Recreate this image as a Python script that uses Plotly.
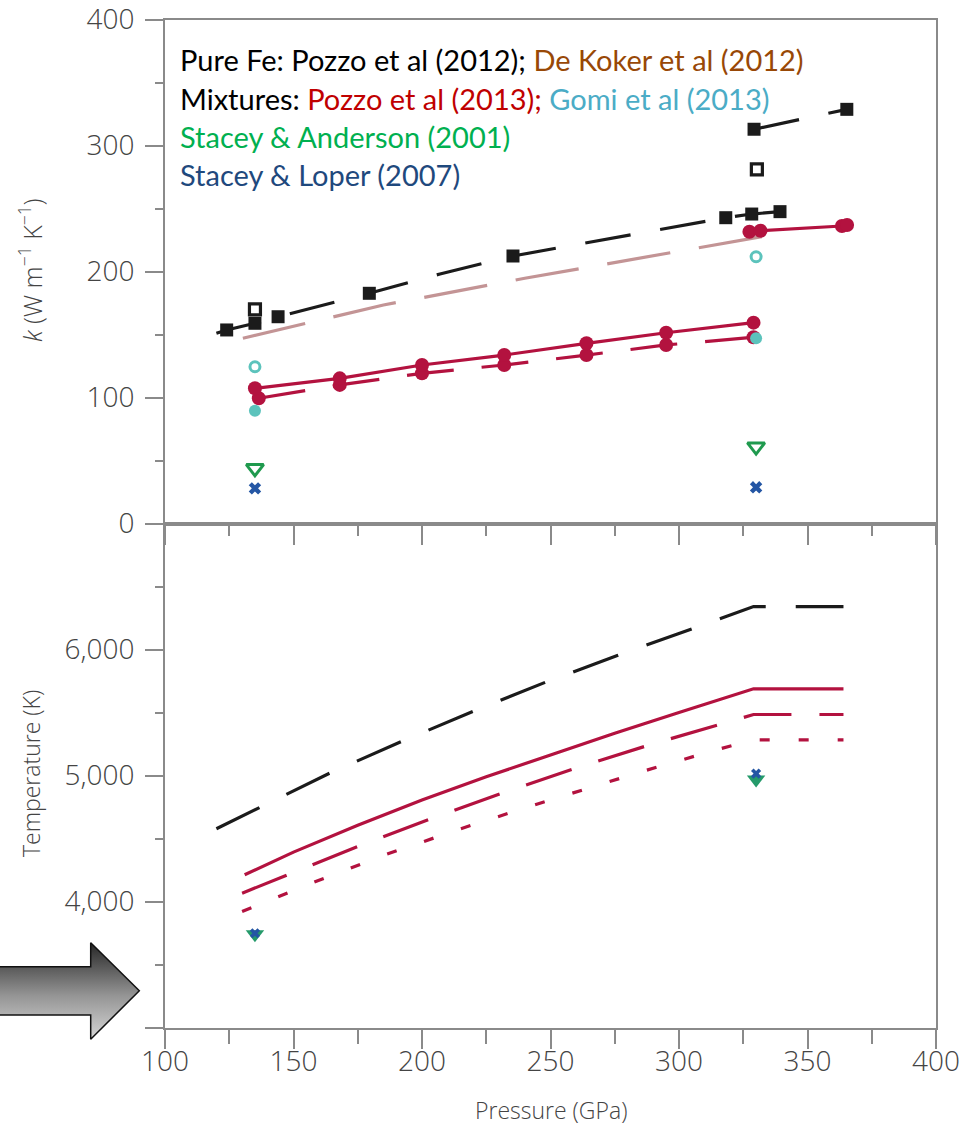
import plotly.graph_objects as go

W, H = 977, 1138

# ---------------- data: top panel (thermal conductivity k) ----------------
fe_line_p = [120, 124, 135, 144, 179.5, 207, 235.4, 270, 295, 318.2, 328.3, 339.3]
fe_line_k = [151, 153.6, 158.9, 164.1, 182.7, 198, 212.3, 225, 234, 242.7, 245.6, 247.5]
fe_sq_p = [124, 135, 144, 179.5, 235.4, 318.2, 328.3, 339.3]
fe_sq_k = [153.6, 158.9, 164.1, 182.7, 212.3, 242.7, 245.6, 247.5]
fe_hi_p = [329.2, 365.3]
fe_hi_k = [312.9, 328.7]
fe_open_p = [135, 330.3]
fe_open_k = [170, 281.1]

dekoker_p = [130.3, 185, 240, 303, 339.6]
dekoker_k = [147, 173.4, 194.6, 217, 230.3]

mix_solid_p = [135, 168, 200, 232, 264, 295, 329]
mix_solid_k = [107.3, 115.2, 125.8, 133.7, 143, 151.4, 159.4]
mix_dash_p = [136.5, 168, 200, 232, 264, 295, 329]
mix_dash_k = [99.4, 110, 119.2, 125.8, 133.7, 141.7, 147.8]
mix_hi_p = [327.4, 331.7, 363.4, 365.4]
mix_hi_k = [231.6, 232.4, 236.1, 236.9]

gomi_fill_p = [135, 330]
gomi_fill_k = [89.5, 147]
gomi_open_p = [135, 330]
gomi_open_k = [124.4, 211.7]

sa_p = [135, 330]
sa_k = [43.8, 61]
sl_p = [135, 330]
sl_k = [27.9, 28.7]

# ---------------- data: bottom panel (temperature) ----------------
fe_T_p = [120, 137, 148, 164, 192, 220, 248, 276, 305, 329, 364]
fe_T = [4577, 4748, 4855, 5018, 5270, 5510, 5740, 5952, 6164, 6341, 6341]
mixT_solid_p = [131, 150, 175, 200, 225, 250, 275, 300, 329, 364]
mixT_solid = [4212, 4392, 4605, 4805, 4990, 5165, 5335, 5500, 5688, 5688]
mixT_dash_p = [130, 148, 176, 204, 232, 261, 289, 318, 329, 364]
mixT_dash = [4066, 4212, 4444, 4661, 4867, 5066, 5246, 5418, 5484, 5484]
mixT_dot_p = [130, 158, 186, 215, 243, 286, 316, 329, 364]
mixT_dot = [3921, 4153, 4373, 4577, 4762, 5034, 5212, 5283, 5283]
saT_p = [135, 330]
saT = [3740, 4968]
slT_p = [135, 330]
slT = [3748, 5015]

x_ticks = [100, 150, 200, 250, 300, 350, 400]
k_ticks = [0, 100, 200, 300, 400]
T_ticks = [3000, 4000, 5000, 6000]
T_ticktext = ["", "4,000", "5,000", "6,000"]

# ---------------- colours ----------------
BLACK = "#1b1b1b"
RED = "#B3123F"
MAUVE = "#C39495"
TEAL = "#5CC3BC"
GREEN = "#1F9A4E"
BLUE = "#2456A4"
AXC = "#8a8a8a"

fig = go.Figure()

def add(x, y, xa="x", ya="y", **kw):
    fig.add_trace(go.Scatter(x=x, y=y, xaxis=xa, yaxis=ya, showlegend=False,
                             hoverinfo="skip", cliponaxis=False, **kw))

LONG = "46px,30px"
# top panel lines
add(dekoker_p, dekoker_k, mode="lines", line=dict(color=MAUVE, width=3.2, dash="64px,29px"))
add(fe_line_p, fe_line_k, mode="lines", line=dict(color=BLACK, width=3.2, dash=LONG))
add(fe_hi_p, fe_hi_k, mode="lines+markers", line=dict(color=BLACK, width=3.2, dash=LONG),
    marker=dict(symbol="square", size=13, color=BLACK))
add(fe_sq_p, fe_sq_k, mode="markers", marker=dict(symbol="square", size=13, color=BLACK))
add(fe_open_p, fe_open_k, mode="markers",
    marker=dict(symbol="square-open", size=11, color=BLACK, line=dict(width=3.2, color=BLACK)))
add(mix_dash_p, mix_dash_k, mode="lines+markers", line=dict(color=RED, width=3.2, dash="47px,28px"),
    marker=dict(symbol="circle", size=14, color=RED))
add(mix_solid_p, mix_solid_k, mode="lines+markers", line=dict(color=RED, width=3.2),
    marker=dict(symbol="circle", size=14, color=RED))
add(mix_hi_p, mix_hi_k, mode="lines+markers", line=dict(color=RED, width=3.2),
    marker=dict(symbol="circle", size=14, color=RED))
add(gomi_fill_p, gomi_fill_k, mode="markers", marker=dict(symbol="circle", size=12, color=TEAL))
add(gomi_open_p, gomi_open_k, mode="markers",
    marker=dict(symbol="circle-open", size=10, color=TEAL, line=dict(width=3, color=TEAL)))
add(sa_p, sa_k, mode="markers",
    marker=dict(symbol="triangle-down-open", size=15, color=GREEN, line=dict(width=3, color=GREEN)))
add(sl_p, sl_k, mode="markers", marker=dict(symbol="x", size=11, color=BLUE, line=dict(width=0)))

# bottom panel lines
add(fe_T_p, fe_T, "x2", "y2", mode="lines", line=dict(color=BLACK, width=3.2, dash="48px,30px"))
add(mixT_solid_p, mixT_solid, "x2", "y2", mode="lines", line=dict(color=RED, width=3.2))
add(mixT_dash_p, mixT_dash, "x2", "y2", mode="lines", line=dict(color=RED, width=3.2, dash="48px,28px"))
add(mixT_dot_p, mixT_dot, "x2", "y2", mode="lines", line=dict(color=RED, width=3.2, dash="10px,29px"))
add(saT_p, saT, "x2", "y2", mode="markers", marker=dict(symbol="triangle-down", size=16, color="#249a6a"))
add(slT_p, slT, "x2", "y2", mode="markers", marker=dict(symbol="x", size=9, color=BLUE, line=dict(width=0)))

# decorative gradient arrow (pixel-based helper axes)
arrow_x = [-5, 90.7, 90.7, 139.3, 90.7, 90.7, -5, -5]
arrow_y = [966.7, 966.7, 942.7, 990.7, 1039.3, 1015, 1015, 966.7]
fig.add_trace(go.Scatter(x=arrow_x, y=arrow_y, xaxis="x3", yaxis="y3", mode="lines",
                         fill="toself", line=dict(color="#111", width=1.5),
                         fillgradient=dict(type="vertical",
                                           colorscale=[[0, "#d6d6d6"], [0.45, "#959595"], [1, "#262626"]]),
                         showlegend=False, hoverinfo="skip"))

# ---------------- layout ----------------
XD = [165 / W, 936 / W]
Y_TOP = [1 - 523.5 / H, 1 - 19.5 / H]
Y_BOT = [1 - 1027.5 / H, 1 - 523.5 / H]

tickfont = dict(family="Open Sans", size=28, color="#444", weight=300)
common = dict(showgrid=False, zeroline=False, showline=True, linecolor=AXC, linewidth=2,
              mirror=True, ticks="outside", tickcolor=AXC, tickwidth=2, automargin=False,
              ticklabeloverflow="allow")

fig.update_layout(
    template="none",
    width=W, height=H, margin=dict(l=0, r=0, t=0, b=0, pad=0, autoexpand=False),
    paper_bgcolor="white", plot_bgcolor="white",
    xaxis=dict(domain=XD, range=[100, 400], anchor="y", tickmode="array", tickvals=x_ticks,
               showticklabels=False, ticklen=19,
               minor=dict(ticks="outside", dtick=25, tick0=100, ticklen=10, tickcolor=AXC, tickwidth=2),
               **common),
    yaxis=dict(domain=Y_TOP, range=[0, 400], anchor="x", tickmode="array", tickvals=k_ticks,
               ticklen=18, tickfont=tickfont, ticklabelstandoff=5,
               minor=dict(ticks="outside", dtick=50, tick0=0, ticklen=8, tickcolor=AXC, tickwidth=2),
               **common),
    xaxis2=dict(domain=XD, range=[100, 400], anchor="y2", tickmode="array", tickvals=x_ticks,
                ticktext=[str(v) for v in x_ticks], ticklen=19, tickfont=tickfont, ticklabelstandoff=-11,
                minor=dict(ticks="outside", dtick=25, tick0=100, ticklen=14, tickcolor=AXC, tickwidth=2),
                **common),
    yaxis2=dict(domain=Y_BOT, range=[3000, 7000], anchor="x2", tickmode="array", tickvals=T_ticks,
                ticktext=T_ticktext, ticklen=18, tickfont=tickfont, ticklabelstandoff=5,
                minor=dict(ticks="outside", tickmode="array", tickvals=[3500, 4500, 5500, 6500],
                           ticklen=8, tickcolor=AXC, tickwidth=2),
                **common),
    xaxis3=dict(domain=[0, 150 / W], range=[0, 150], visible=False, anchor="y3", fixedrange=True),
    yaxis3=dict(domain=[1 - 1050 / H, 1 - 930 / H], range=[1050, 930], visible=False, anchor="x3",
                fixedrange=True),
)

titlefont = dict(family="Open Sans", size=23, color="#444", weight=300)
fig.add_annotation(text="Pressure (GPa)", x=(165 + 936) / 2 / W, y=1 - 1110 / H, xref="paper", yref="paper",
                   showarrow=False, font=titlefont, xanchor="center", yanchor="middle")
fig.add_annotation(text="<i>k</i> (W m<sup>\u22121</sup> K<sup>\u22121</sup>)", x=31 / W, y=1 - 270 / H,
                   xref="paper", yref="paper", showarrow=False,
                   font=dict(family="Open Sans", size=25, color="#444", weight=300), textangle=-90,
                   xanchor="center", yanchor="middle")
fig.add_annotation(text="Temperature (K)", x=31 / W, y=1 - 774 / H, xref="paper", yref="paper",
                   showarrow=False, font=titlefont, textangle=-90, xanchor="center", yanchor="middle")

legend_lines = [
    "<span style='color:#000000'>Pure Fe: Pozzo et al (2012); </span><span style='color:#984806'>De Koker et al (2012)</span>",
    "<span style='color:#000000'>Mixtures: </span><span style='color:#C00000'>Pozzo et al (2013); </span><span style='color:#4BACC6'>Gomi et al (2013)</span>",
    "<span style='color:#00B050'>Stacey &amp; Anderson (2001)</span>",
    "<span style='color:#1F497D'>Stacey &amp; Loper (2007)</span>",
]
for i, t in enumerate(legend_lines):
    fig.add_annotation(text=t, x=178 / W, y=1 - (60 + 38 * i) / H, xref="paper", yref="paper",
                       showarrow=False, xanchor="left", yanchor="middle",
                       font=dict(family="Lato", size=29, color="#000"))

fig.write_html("out.html", config=dict(displayModeBar=False))
